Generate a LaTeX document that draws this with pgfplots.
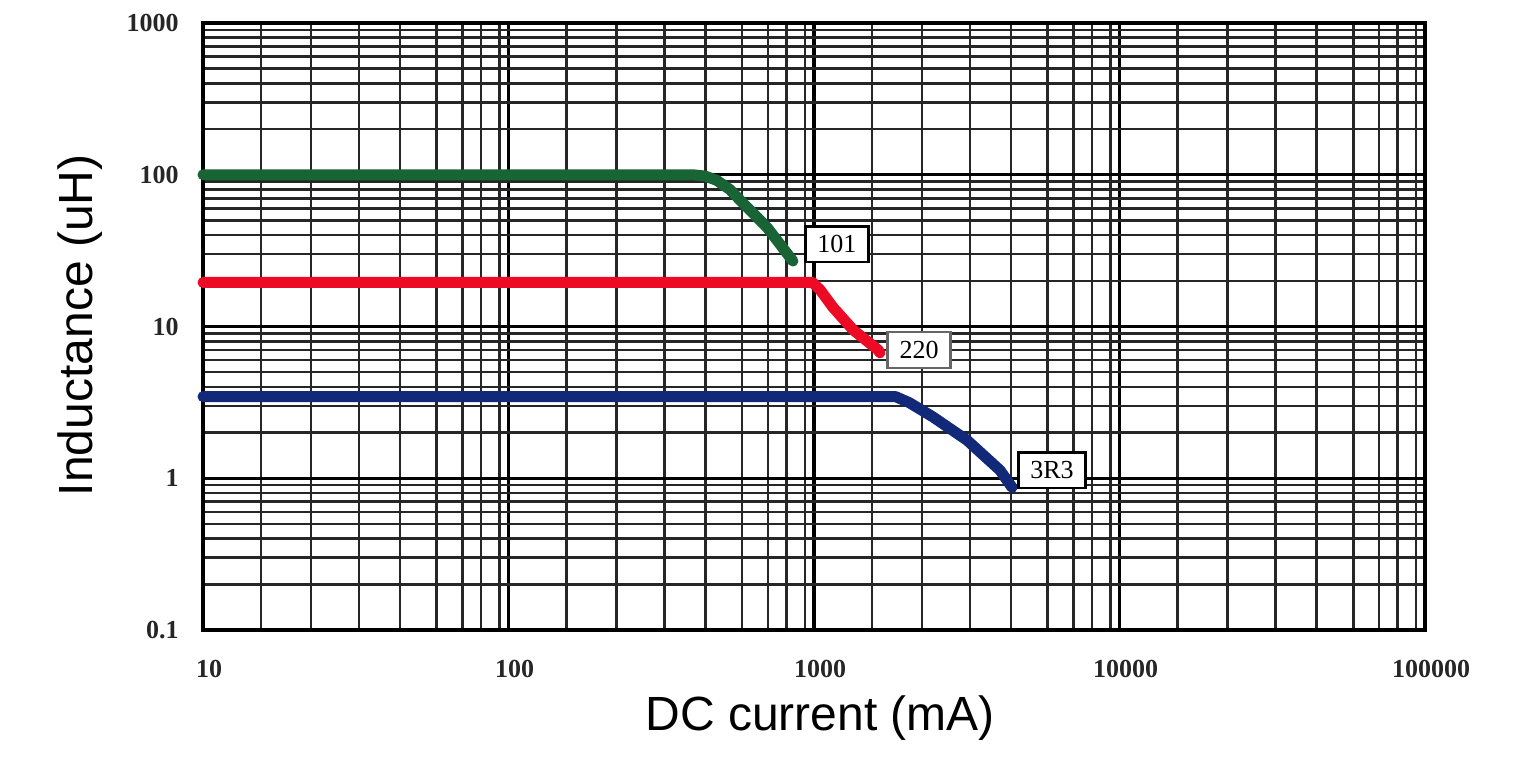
\documentclass[border=0pt]{standalone}
\usepackage{fontspec}
\setmainfont{Liberation Serif}
\newfontfamily\labfont{Liberation Sans}
\usepackage{pgfplots}
\pgfplotsset{compat=1.18}
\definecolor{cgreen}{RGB}{24,100,52}
\definecolor{cred}{RGB}{236,10,36}
\definecolor{cblue}{RGB}{18,40,120}
\begin{document}
\begin{tikzpicture}
\useasboundingbox (0,0) rectangle (758.5pt,379pt);
\begin{axis}[
  at={(101.5pt,64pt)}, anchor=south west,
  scale only axis, width=611pt, height=303.5pt,
  xmode=log, ymode=log,
  xmin=10, xmax=100000, ymin=0.1, ymax=1000,
  xtick={10,100,1000,10000,100000},
  xticklabels={10,100,1000,10000,100000},
  ytick={0.1,1,10,100,1000},
  yticklabels={0.1,1,10,100,1000},
  minor xtick={15.5,22.6,32.4,44.2,58.2,70.8,81.3,93.3,
               155,226,324,442,582,708,813,933,
               1550,2260,3240,4420,5820,7080,8130,9330,
               15500,22600,32400,44200,58200,70800,81300,93300},
  minor ytick={0.2,0.3,0.4,0.5,0.6,0.7,0.8,0.9,2,3,4,5,6,7,8,9,20,30,40,50,60,70,80,90,200,300,400,500,600,700,800,900},
  major tick length=0pt, minor tick length=0pt,
  grid=both,
  major grid style={black, line width=1.6pt},
  minor grid style={black!85, line width=1.3pt},
  axis line style={black, line width=1.6pt},
  /pgf/number format/assume math mode=true,
  ticklabel style={font=\fontsize{13}{15}\selectfont\bfseries, text=black!85},
  yticklabel style={inner sep=0pt, xshift=-12pt},
  xticklabel style={inner sep=0pt, yshift=-15pt, xshift=3pt},
  xlabel={DC current (mA)},
  ylabel={Inductance (uH)},
  label style={font=\labfont\fontsize{24}{28}\selectfont},
  xlabel style={at={(axis description cs:0.505,-0.145)}, anchor=center},
  ylabel style={at={(axis description cs:-0.1007,0.502)}, anchor=center},
  clip=false,
]
\addplot[cgreen, line width=5.5pt, line join=round, line cap=round] coordinates {
  (10,100) (400,100) (440,98) (480,92) (530,80) (573,68) (702,45) (853,27)
};
\addplot[cred, line width=5.5pt, line join=round, line cap=round] coordinates {
  (10,19.5) (990,19.5) (1048,17.4) (1153,13.4) (1343,9.5) (1622,7.0) (1644,6.7)
};
\addplot[cblue, line width=5.5pt, line join=round, line cap=round] coordinates {
  (10,3.45) (1850,3.45) (2050,3.15) (2455,2.53) (3170,1.78) (4060,1.13) (4450,0.87)
};
\node[draw=black, line width=1.2pt, fill=white, inner xsep=6pt, inner ysep=4.5pt,
      font=\fontsize{13}{15}\selectfont] at (axis cs:1189,34.9) {101};
\node[draw=black!60, line width=1.2pt, fill=white, inner xsep=6pt, inner ysep=4.5pt,
      font=\fontsize{13}{15}\selectfont] at (axis cs:2208,7.0) {220};
\node[draw=black, line width=1.2pt, fill=white, inner xsep=6pt, inner ysep=4.5pt,
      font=\fontsize{13}{15}\selectfont] at (axis cs:6012,1.13) {3R3};
\end{axis}
\end{tikzpicture}
\end{document}
